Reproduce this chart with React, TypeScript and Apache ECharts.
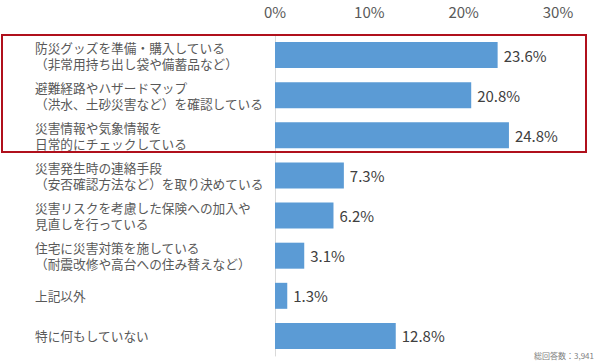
import React, { useEffect, useRef } from "react";
import * as echarts from "echarts";

const categories = [
  "防災グッズを準備・購入している\n（非常用持ち出し袋や備蓄品など）",
  "避難経路やハザードマップ\n（洪水、土砂災害など）を確認している",
  "災害情報や気象情報を\n日常的にチェックしている",
  "災害発生時の連絡手段\n（安否確認方法など）を取り決めている",
  "災害リスクを考慮した保険への加入や\n見直しを行っている",
  "住宅に災害対策を施している\n（耐震改修や高台への住み替えなど）",
  "上記以外",
  "特に何もしていない",
];
const values = [23.6, 20.8, 24.8, 7.3, 6.2, 3.1, 1.3, 12.8];
const axisMin = 0;
const axisMax = 30;
const axisStep = 10;
const footnote = "総回答数：3,941";

const FONT = "'Noto Sans CJK JP', 'Noto Sans', sans-serif";

export default function App() {
  const ref = useRef<HTMLDivElement>(null);
  useEffect(() => {
    document.body.style.margin = "0";
    const chart = echarts.init(ref.current!, undefined, { renderer: "svg" });
    chart.setOption({
      animation: false,
      backgroundColor: "#ffffff",
      textStyle: { fontFamily: FONT },
      grid: { left: 275, right: 42, top: 35, bottom: 7, containLabel: false },
      xAxis: {
        type: "value",
        position: "top",
        min: axisMin,
        max: axisMax,
        interval: axisStep,
        axisLine: { show: false },
        axisTick: { show: false },
        splitLine: { show: false },
        axisLabel: {
          formatter: "{value}%",
          color: "#595959",
          fontSize: 15,
          margin: 16,
          fontFamily: FONT,
        },
      },
      yAxis: {
        type: "category",
        inverse: true,
        data: categories,
        axisLine: { show: true, lineStyle: { color: "#d9d9d9", width: 1 } },
        axisTick: { show: false },
        axisLabel: {
          align: "left",
          margin: 240,
          color: "#595959",
          fontSize: 12.7,
          lineHeight: 16,
          fontFamily: FONT,
        },
      },
      series: [
        {
          type: "bar",
          data: values,
          barWidth: 26,
          itemStyle: { color: "#5b9bd5" },
          label: {
            show: true,
            position: "right",
            distance: 6,
            formatter: "{c}%",
            color: "#404040",
            fontSize: 15,
            fontFamily: FONT,
          },
        },
      ],
      graphic: [
        {
          type: "rect",
          shape: { x: 2, y: 35, width: 584, height: 117 },
          style: { fill: "none", stroke: "#b0101c", lineWidth: 2 },
          z: 10,
        },
        {
          type: "text",
          right: 6,
          top: 351,
          style: {
            text: footnote,
            fill: "#808080",
            fontSize: 8,
            fontFamily: FONT,
          },
        },
      ],
    });
    return () => chart.dispose();
  }, []);
  return <div ref={ref} style={{ width: 600, height: 363 }} />;
}
